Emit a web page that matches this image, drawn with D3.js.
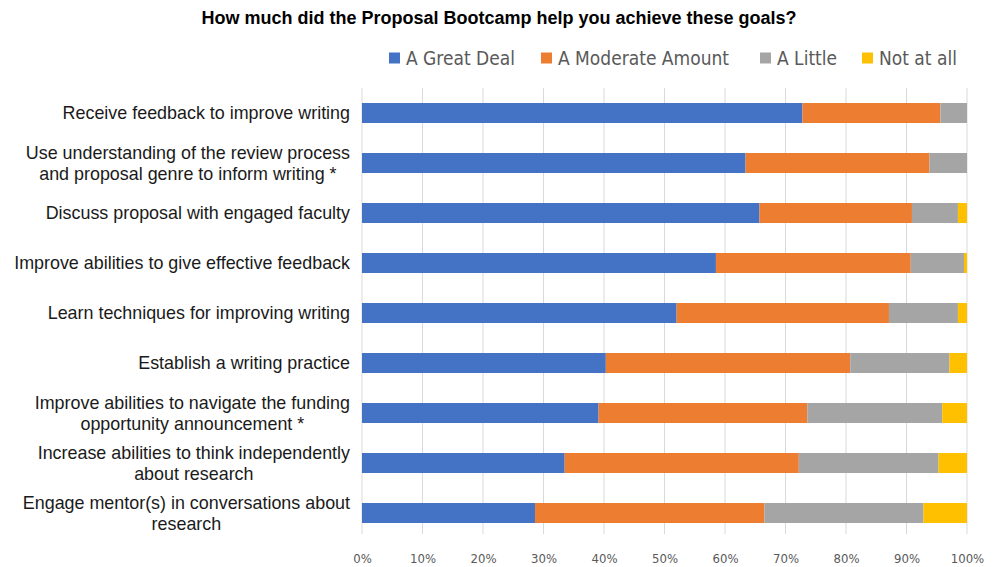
<!DOCTYPE html>
<html>
<head>
<meta charset="utf-8">
<script src="https://cdn.jsdelivr.net/npm/d3@7"></script>
<style>
  html, body { margin: 0; padding: 0; background: #fff; }
  svg { display: block; }
</style>
</head>
<body>
<svg id="chart" width="998" height="567"></svg>
<script>
// Survey goals (top to bottom); "\n" marks a line break in the label
const goals = [
  "Receive feedback to improve writing",
  "Use understanding of the review process\nand proposal genre to inform writing *",
  "Discuss proposal with engaged faculty",
  "Improve abilities to give effective feedback",
  "Learn techniques for improving writing",
  "Establish a writing practice",
  "Improve abilities to navigate the funding\nopportunity announcement *",
  "Increase abilities to think independently\nabout research",
  "Engage mentor(s) in conversations about\nresearch"
];

const responses = ["A Great Deal", "A Moderate Amount", "A Little", "Not at all"];

// Share of respondents (%) per goal, one array per response level
const greatDeal      = [72.8, 63.4, 65.7, 58.5, 52.0, 40.3, 39.1, 33.5, 28.6];
const moderateAmount = [22.8, 30.4, 25.2, 32.2, 35.1, 40.4, 34.5, 38.7, 37.9];
const aLittle        = [ 4.4,  6.2,  7.6,  8.8, 11.4, 16.4, 22.3, 23.1, 26.3];
const notAtAll       = [ 0.0,  0.0,  1.5,  0.5,  1.5,  2.9,  4.1,  4.7,  7.2];

const xTicks = [0, 10, 20, 30, 40, 50, 60, 70, 80, 90, 100];

const colors = ["#4472C4", "#ED7D31", "#A5A5A5", "#FFC000"];

const rows = goals.map((g, i) => ({
  goal: g,
  "A Great Deal": greatDeal[i],
  "A Moderate Amount": moderateAmount[i],
  "A Little": aLittle[i],
  "Not at all": notAtAll[i]
}));

const svg = d3.select("#chart");
const margin = { left: 362, right: 31, top: 88, bottom: 29 };
const width = 998, height = 567;

const x = d3.scaleLinear().domain([0, 100]).range([margin.left, width - margin.right]);
const y = d3.scaleBand().domain(goals).range([margin.top, height - margin.bottom]).paddingInner(0.6).paddingOuter(0.3);
const color = d3.scaleOrdinal().domain(responses).range(colors);

// Title
svg.append("text")
  .attr("x", 499).attr("y", 24)
  .attr("text-anchor", "middle")
  .attr("font-family", "Liberation Sans, Arial, sans-serif")
  .attr("font-weight", "bold")
  .attr("font-size", 18)
  .attr("fill", "#000")
  .text("How much did the Proposal Bootcamp help you achieve these goals?");

// Legend
const legendFont = "'Liberation Sans Narrow', 'Arial Narrow', 'DejaVu Sans Condensed', sans-serif";
const legendX = [389, 541, 760, 862];
const legend = svg.append("g");
responses.forEach((r, i) => {
  const g = legend.append("g").attr("transform", `translate(${legendX[i]},58)`);
  g.append("rect").attr("x", 0).attr("y", -5.5).attr("width", 11).attr("height", 11).attr("fill", color(r));
  g.append("text").attr("x", 17).attr("y", 0).attr("dy", "0.35em")
    .attr("font-family", legendFont).attr("font-size", 19).attr("fill", "#595959")
    .text(r);
});

// Vertical gridlines
svg.append("g")
  .selectAll("line").data(xTicks).join("line")
  .attr("x1", d => x(d)).attr("x2", d => x(d))
  .attr("y1", margin.top).attr("y2", height - margin.bottom - 4)
  .attr("stroke", "#d9d9d9").attr("stroke-width", 1);

// Stacked bars
const stack = d3.stack().keys(responses)(rows);
svg.append("g")
  .selectAll("g").data(stack).join("g")
  .attr("fill", d => color(d.key))
  .selectAll("rect").data(d => d).join("rect")
  .attr("x", d => x(d[0]))
  .attr("y", d => y(d.data.goal))
  .attr("width", d => Math.max(0, x(d[1]) - x(d[0])))
  .attr("height", y.bandwidth());

// X axis tick labels
const xAxis = d3.axisBottom(x).tickValues(xTicks).tickFormat(d => d + "%").tickSize(0).tickPadding(0);
const xg = svg.append("g").attr("transform", `translate(0,${height - margin.bottom + 16})`).call(xAxis);
xg.select(".domain").remove();
xg.selectAll("text")
  .attr("font-family", legendFont)
  .attr("font-size", 13)
  .attr("fill", "#595959");

// Category labels: block right-aligned, lines centered within the block
const labelRight = 350;
const lineH = 20.5;
const labels = svg.append("g")
  .attr("font-family", "Liberation Sans, Arial, sans-serif")
  .attr("font-size", 17.9)
  .attr("fill", "#1a1a1a");
goals.forEach(g => {
  const lines = g.split("\n");
  const cy = y(g) + y.bandwidth() / 2;
  const t = labels.append("text").attr("text-anchor", "middle");
  lines.forEach((ln, j) => {
    t.append("tspan").attr("x", 0)
      .attr("y", cy + (j - (lines.length - 1) / 2) * lineH)
      .attr("dy", "0.35em")
      .text(ln);
  });
  let w = 0;
  t.selectAll("tspan").each(function () { w = Math.max(w, this.getComputedTextLength()); });
  t.selectAll("tspan").attr("x", labelRight - w / 2);
});
</script>
</body>
</html>
